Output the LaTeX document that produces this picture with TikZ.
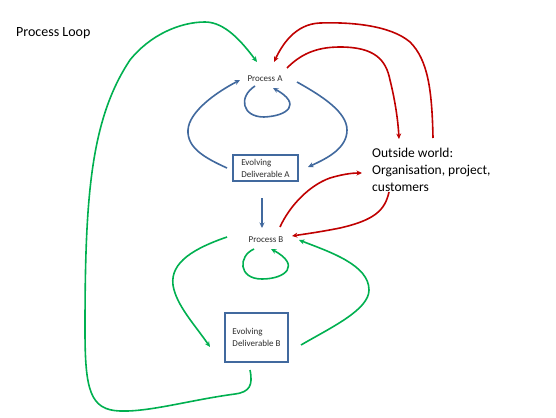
\documentclass[tikz,border=0pt]{standalone}
\usepackage{fontspec}
\setmainfont{Carlito}
\usetikzlibrary{arrows.meta,calc}
\definecolor{cblue}{RGB}{65,105,158}
\definecolor{cgreen}{RGB}{0,176,80}
\definecolor{cred}{RGB}{192,0,0}
\definecolor{ctext}{RGB}{45,45,45}
\tikzset{
  conn/.style={line width=1.6pt, -{Stealth[length=5.5pt,width=5pt]}},
  bluec/.style={conn, draw=cblue},
  greenc/.style={conn, draw=cgreen},
  redc/.style={conn, draw=cred},
  small/.style={font=\fontsize{9}{12}\selectfont, text=ctext, inner sep=0pt},
  delbox/.style={small, draw=cblue, line width=1.5pt, align=left},
}
\begin{document}
\begin{tikzpicture}[x=1pt,y=-1pt]
\useasboundingbox[fill=white] (0,0) rectangle (556,417);
\node[anchor=base west, font=\fontsize{14}{17}\selectfont, inner sep=0pt] (title) at (16,37) {Process Loop};
\node[small] (procA) at (265,79) {Process A};
\node[small] (procB) at (266,240) {Process B};
\node[delbox, minimum width=65pt, minimum height=26pt] (delA) at (265.5,168) {Evolving\\Deliverable A};
\node[delbox, minimum width=63pt, minimum height=49pt] (delB) at (256.5,337.5) {Evolving\\Deliverable B};
\node[anchor=north west, align=left, inner sep=0pt, font=\fontsize{13.5}{17}\selectfont] (world) at (372,148) {Outside world:\\Organisation, project,\\customers};

% blue
\draw[bluec] ($(delA.center)+(-38.5,0)$) .. controls (205,158) and (187,148) .. (188,130) .. controls (189,112) and (215,93) .. ($(procA.center)+(-25,1)$);
\draw[bluec] ($(procA.center)+(32,3)$) .. controls (322,96) and (347,112) .. (347,130) .. controls (347,148) and (328,158) .. ($(delA.center)+(42.5,-1)$);
\draw[bluec] ($(procA.center)+(-10,7)$) .. controls (238,97) and (242,117) .. (264,117) .. controls (288,116) and (302,104) .. ($(procA.center)+(8,9)$);
\draw[bluec] ($(delA.center)+(-3.5,30)$) -- ($(procB.center)+(-4,-12)$);

% green
\draw[greenc] ($(delB.center)+(-6.5,32.5)$) .. controls (253,385) and (250,392) .. (235,394) .. controls (190,400) and (150,412) .. (120,411) .. controls (90,410) and (85,390) .. (85,330) .. controls (85,200) and (90,120) .. (130,60) .. controls (150,35) and (180,22) .. (205,22) .. controls (225,22) and (242,42) .. ($(procA.center)+(-8,-17)$);
\draw[greenc] ($(procB.center)+(-12,9)$) .. controls (238,256) and (238,279) .. (262,279) .. controls (286,279) and (301,265) .. ($(procB.center)+(5,9)$);
\draw[greenc] ($(procB.center)+(-39,-3)$) .. controls (195,248) and (170,262) .. (173,285) .. controls (176,305) and (195,325) .. ($(delB.center)+(-46.5,9.5)$);
\draw[greenc] ($(delB.center)+(44.5,7.5)$) .. controls (330,328) and (369,310) .. (369,290) .. controls (369,265) and (330,252) .. ($(procB.center)+(33,0)$);

% red
\draw[redc] ($(world.north west)+(61,-10)$) .. controls (432,90) and (428,60) .. (410,42) .. controls (390,25) and (350,22) .. (320,23) .. controls (295,24) and (282,45) .. ($(procA.center)+(9,-17)$);
\draw[redc] ($(procA.center)+(22,-11)$) .. controls (300,55) and (315,47) .. (340,47) .. controls (375,47) and (386,60) .. (390,80) .. controls (395,100) and (398,120) .. ($(world.north west)+(27,-9)$);
\draw[redc] ($(procB.center)+(14,-13)$) .. controls (290,205) and (310,185) .. (330,178) .. controls (340,175) and (350,173) .. ($(world.north west)+(-10,25)$);
\draw[redc] ($(world.north west)+(17,44)$) .. controls (385,210) and (375,220) .. (340,228) .. controls (320,232) and (305,234) .. ($(procB.center)+(26,-4)$);
\end{tikzpicture}
\end{document}
